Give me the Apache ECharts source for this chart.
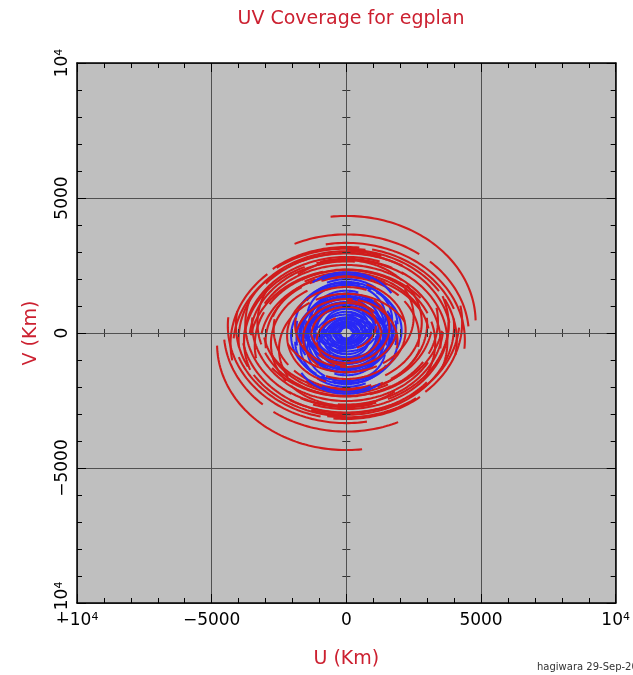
<!DOCTYPE html>
<html><head><meta charset="utf-8">
<script src="https://cdn.jsdelivr.net/npm/echarts@6/dist/echarts.min.js"></script>
<style>html,body{margin:0;padding:0;background:#fff}#c{width:633px;height:675px}</style>
</head><body><div id="c"></div>
<script>
// ---- data (km) ----
const axisTicks = [-10000, -5000, 0, 5000, 10000];
const sinDec = 0.82;                       // v/u axis ratio of every UV ellipse
// long baselines (red): projected length, ellipse centre offset in v, phase range (deg), scan gap (deg, 0 = none)
const redLength  = [4800, 4550, 4400, 4250, 4100, 3900, 3750, 3500, 3300, 4300, 4000, 3800, 3600, 3400, 3200, 3000, 4200, 3800, 3600, 3100, 2900, 2700];
const redCentreV = [ 400,  -80, -270, -300, -280, -230, -330, -350, -370, -400, -250, -400, -300, -450, -500, -350,  500,  300,  600, -300, -200, -150];
const redStart   = [  -7,  -25,  -10,  -40,    0,  -50,  -15,  -60,  -30, -100,  -95,  -90,  -85, -100,  -80,  -95,   95,   70,  100,  -30,  -70,  -20];
const redEnd     = [  90,   85,   95,   70,  100,   80,  110,   95,  120,   10,   20,   35,    5,   40,   60,   30,  210,  200,  230,   80,   30,  100];
const redGap     = [   0,   40,    0,   10,   60,    0,   30,    0,   70,  -40,    0,  -20,    0,  -60,    0,  -30,  150,    0,  170,    0,  -20,   50];
// shorter red baselines drawn over the blue ones
const innerRedLength  = [2800, 2500, 2200, 1900, 1600, 1300, 1100];
const innerRedCentreV = [ 400, -600,  100, -300,  200, -100,  300];
const innerRedStart   = [ -40, -120,   20,  -80,   40,  -90,    0];
const innerRedEnd     = [ 150,   60,  200,  100,  220,   80,  160];
const innerRedGap     = [  50,  -30,    0,   10,    0,    0,   90];
// short baselines (blue)
const blueLength  = [1950, 1900, 1850, 1750, 1700, 1600, 1550, 1500, 1450, 1400, 1300, 1250, 1200, 1100, 1000, 950, 850, 750, 600, 500, 400, 300, 2050,
                     1800, 1700, 1700, 1600, 1500, 1400, 1350, 1200, 1150, 900, 800, 700, 650, 550, 450, 350, 250, 200];
const blueCentreV = [ 650,  300, -200,  100,  500, -400,  200, -100,  600,    0, -500,  350, -300,  100,  450, -200, 200, -100, 150, -50, 100,   0,  100,
                      700,  600, -100,  150, -250,  300, -150,  100,  -50,  50, -150, 200, -100,  80, -80,  60,   0,  50];
const blueStart   = [ -40,  -80, -100,   60,  -60,  -90,    0, -100,  -80,  -90,   20,  -90,  -60,  -90,    0,  -90, -120, -90,   0, -90, -60, -90,  -60,
                      -30,  -25,  -90, -100,  -80,  -90,    0, -100,   30, -90, -90,   0, -90, -90, -90,   0, -90, -90];
const blueEnd     = [  60,   90,  100,  230,  120,   90,  180,   80,  110,   90,  200,   90,  120,   90,  180,   90,   80,  90, 180,  90, 120,  90,  115,
                       30,   40,   90,   80,  100,  100,  180,  100,  210,  90,  90, 180,  90,  90,  90, 180,  90,  90];
const blueGap     = [   0,   20,    0,  150,    0,    0,   90,    0,   30,    0,    0,    0,   40,    0,    0,    0,    0,   0,   0,   0,   0,   0,   30,
                        0,    0,   10,    0,   40,    0,  120,    0,    0,   0,   0,   0,   0,   0,   0,   0,   0,   0];

// ---- build UV tracks (track + its conjugate) ----
function track(L, v0, t1, t2) {
  const pts = [];
  for (let t = t1; t <= t2 + 1e-9; t += 1.5) {
    const r = t * Math.PI / 180;
    pts.push([L * Math.sin(r), v0 + sinDec * L * Math.cos(r)]);
  }
  return pts;
}
function buildTracks(len, cv, s, e, gap) {
  const out = [];
  for (let i = 0; i < len.length; i++) {
    const pieces = gap[i] ? [[s[i], gap[i] - 3], [gap[i] + 3, e[i]]] : [[s[i], e[i]]];
    pieces.forEach(function (pc) {
      const p = track(len[i], cv[i], pc[0], pc[1]);
      if (p.length < 2) return;
      out.push({coords: p});
      out.push({coords: p.map(q => [-q[0], -q[1]])});
    });
  }
  return out;
}
const redTracks = buildTracks(redLength, redCentreV, redStart, redEnd, redGap);
const innerRedTracks = buildTracks(innerRedLength, innerRedCentreV, innerRedStart, innerRedEnd, innerRedGap);
const blueTracks = buildTracks(blueLength, blueCentreV, blueStart, blueEnd, blueGap);

const FONT = 'DejaVu Sans';
function fmt(v) {
  if (Math.abs(v) === 10000) return (v < 0 ? '\u2212' : '') + '10{s|4}';
  return v < 0 ? '\u2212' + Math.abs(v) : String(v);
}
const labelRich = {s: {fontSize: 11, lineHeight: 11, verticalAlign: 'top', fontFamily: FONT, color: '#000'}};

function frameAxis(pos, labels, extra) {
  return Object.assign({
    type: 'value', min: axisTicks[0], max: axisTicks[axisTicks.length - 1], interval: 5000,
    position: pos,
    axisLine: {show: true, onZero: false, lineStyle: {color: '#000', width: 1.5}},
    axisTick: {show: true, inside: true, length: 9, lineStyle: {color: '#000', width: 1}},
    minorTick: {show: true, splitNumber: 5, length: 5, lineStyle: {color: '#000', width: 1}},
    splitLine: {show: false},
    axisLabel: {show: labels},
    z: 5
  }, extra || {});
}
function zeroAxis(pos, inside) {
  return {
    type: 'value', min: -10000, max: 10000, interval: 1000, position: pos,
    axisLine: {show: false, onZero: true, onZeroAxisIndex: 0},
    axisTick: {show: true, inside: inside, length: 4, lineStyle: {color: '#333', width: 1}},
    splitLine: {show: false}, axisLabel: {show: false}, z: 4
  };
}
function linesSeries(data, color, z) {
  return {
    type: 'lines', coordinateSystem: 'cartesian2d', xAxisIndex: 0, yAxisIndex: 0,
    polyline: true, silent: true, data: data, z: z,
    lineStyle: {color: color, width: 2.1, opacity: 1}
  };
}

const chart = echarts.init(document.getElementById('c'), null, {renderer: 'canvas'});
chart.setOption({
  animation: false,
  backgroundColor: '#ffffff',
  title: {
    text: 'UV Coverage for egplan', left: 346, textAlign: 'center', top: 5,
    textStyle: {color: '#cc2030', fontFamily: FONT, fontSize: 19, fontWeight: 'normal'}
  },
  grid: {left: 77, right: 17, top: 63, bottom: 72, show: true, backgroundColor: '#bfbfbf', borderColor: '#000', borderWidth: 0},
  xAxis: [
    frameAxis('bottom', true, {
      splitLine: {show: true, lineStyle: {color: '#505050', width: 1}},
      axisLabel: {show: true, margin: 9, fontFamily: FONT, fontSize: 17, color: '#000', formatter: fmt, rich: labelRich},
      name: 'U (Km)', nameLocation: 'middle', nameGap: 47,
      nameTextStyle: {color: '#cc2030', fontFamily: FONT, fontSize: 19}
    }),
    frameAxis('top', false),
    zeroAxis('bottom', true),
    zeroAxis('bottom', false)
  ],
  yAxis: [
    frameAxis('left', true, {
      splitLine: {show: true, lineStyle: {color: '#505050', width: 1}},
      axisLabel: {show: true, rotate: 90, margin: 6, fontFamily: FONT, fontSize: 17, color: '#000', formatter: fmt, rich: labelRich},
      name: 'V (Km)', nameLocation: 'middle', nameGap: 36, nameRotate: 90,
      nameTextStyle: {color: '#cc2030', fontFamily: FONT, fontSize: 19}
    }),
    frameAxis('right', false),
    zeroAxis('left', true),
    zeroAxis('left', false)
  ],
  graphic: [{
    type: 'text', left: 537, top: 662, z: 10,
    style: {text: 'hagiwara 29-Sep-2005', fill: '#333', font: '10px "DejaVu Sans"'}
  }],
  series: [
    linesSeries(redTracks, '#d01c1c', 2),
    linesSeries(blueTracks, '#2828f5', 3),
    linesSeries(innerRedTracks, '#d01c1c', 4)
  ]
});
</script></body></html>
